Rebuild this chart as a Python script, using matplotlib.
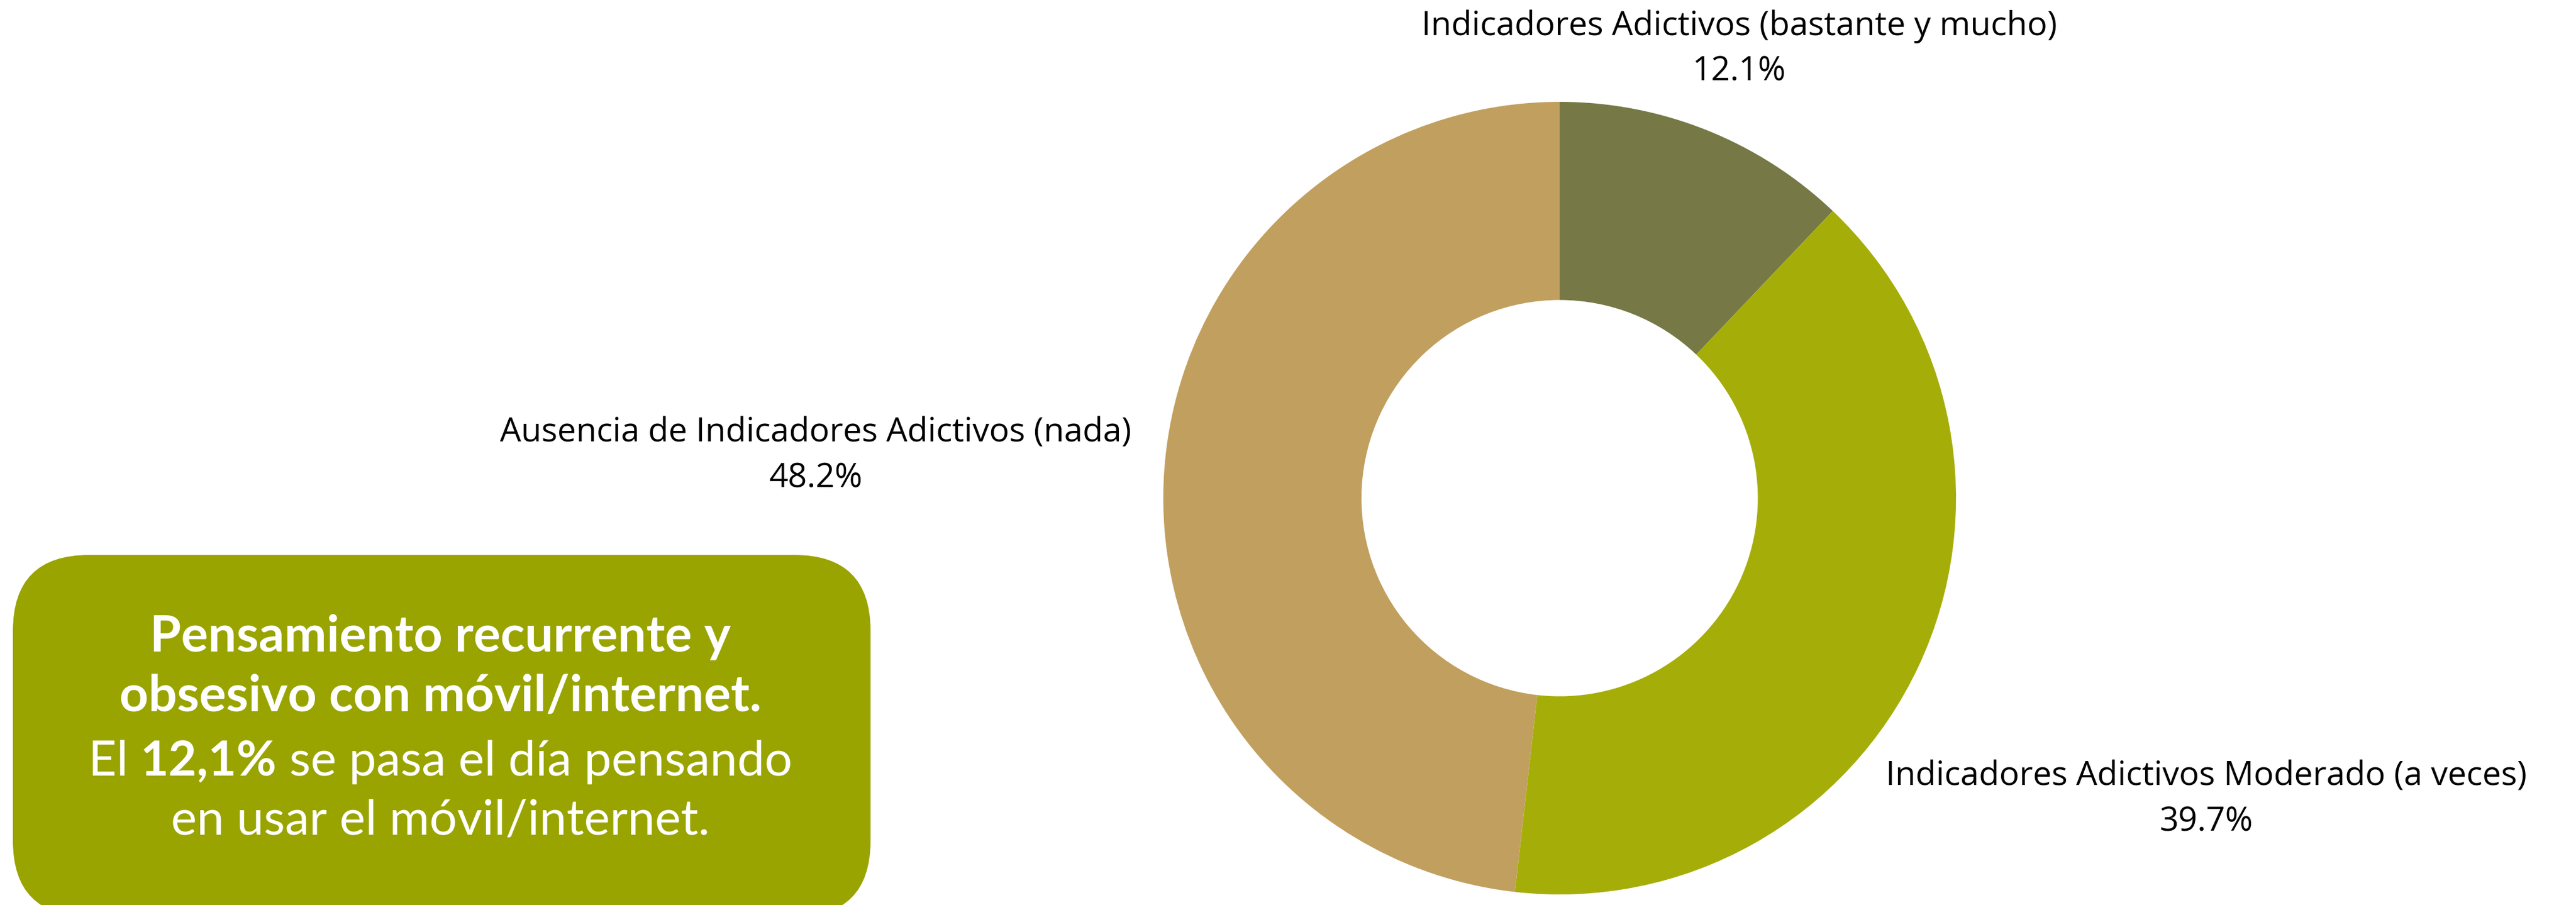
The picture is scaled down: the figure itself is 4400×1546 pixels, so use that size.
import numpy as np
import matplotlib
matplotlib.use("Agg")
import matplotlib.pyplot as plt
from matplotlib.patches import FancyBboxPatch

# Donut data
categories = [
    "Indicadores Adictivos (bastante y mucho)",
    "Indicadores Adictivos Moderado (a veces)",
    "Ausencia de Indicadores Adictivos (nada)",
]
values = [12.1, 39.7, 48.2]
colors = ["#767846", "#A5AE08", "#C19F5F"]

# Distance of each label from the centre, in pie radii
label_dist = [1.22, 1.80, 1.88]

box_title = ["Pensamiento recurrente y", "obsesivo con móvil/internet."]
box_highlight = "12,1%"

LABEL_FONT = "Open Sans"
BOX_FONT = "Lato"
W, H = 4400, 1546

fig = plt.figure(figsize=(W / 100, H / 100), dpi=100, facecolor="white")
ax = fig.add_axes([0, 0, 1, 1])

cx, cy, R = 2664, H - 851, 677
wedges, _ = ax.pie(values, colors=colors, startangle=90, counterclock=False,
                   center=(cx, cy), radius=R,
                   wedgeprops=dict(width=R * 0.5, linewidth=0))

# Category labels with percentage underneath
for w, name, val, d in zip(wedges, categories, values, label_dist):
    ang = np.deg2rad((w.theta1 + w.theta2) / 2)
    lx = cx + d * R * np.cos(ang)
    ly = cy + d * R * np.sin(ang)
    ax.text(lx, ly + 39, name, ha="center", va="center", fontsize=41,
            family=LABEL_FONT, color="black")
    ax.text(lx, ly - 39, f"{val:.1f}%", ha="center", va="center", fontsize=41,
            family=LABEL_FONT, color="black")

# Callout box
box = FancyBboxPatch((22, -20), 1465, (H - 948) + 20,
                     boxstyle="round,pad=0,rounding_size=130",
                     facecolor="#99A400", edgecolor="none")
ax.add_patch(box)

bx = 752
ax.text(bx, H - 1089, box_title[0], ha="center", va="center", fontsize=62,
        family=BOX_FONT, weight="bold", color="white")
ax.text(bx, H - 1190, box_title[1], ha="center", va="center", fontsize=62,
        family=BOX_FONT, weight="bold", color="white")

# Mixed-weight line: "El 12,1% se pasa el día pensando"
parts = [("El ", "normal"), (box_highlight, "bold"), (" se pasa el día pensando", "normal")]
fig.canvas.draw()
renderer = fig.canvas.get_renderer()
pieces = []
for txt, wt in parts:
    t = ax.text(0, H - 1302, txt, ha="left", va="center", fontsize=60,
                family=BOX_FONT, weight=wt, color="white")
    pieces.append(t)
widths = [p.get_window_extent(renderer).width for p in pieces]
x = bx - sum(widths) / 2
for p, wdt in zip(pieces, widths):
    p.set_x(x)
    x += wdt

ax.text(bx, H - 1403, "en usar el móvil/internet.", ha="center", va="center",
        fontsize=60, family=BOX_FONT, weight="normal", color="white")

ax.set_xlim(0, W)
ax.set_ylim(0, H)
ax.set_axis_off()

fig.savefig("out.png", dpi=100, facecolor="white")
